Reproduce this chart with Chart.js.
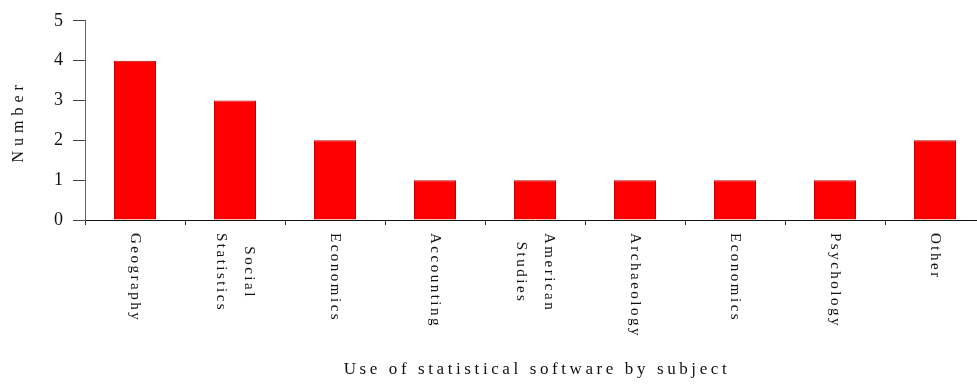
<!DOCTYPE html>
<html>
<head>
<meta charset="utf-8">
<title>Use of statistical software by subject</title>
<script src="https://cdn.jsdelivr.net/npm/chart.js@4/dist/chart.umd.min.js"></script>
<style>
  html, body { margin: 0; padding: 0; background: #ffffff; overflow: hidden; }
  #wrap { width: 990px; height: 385px; }
</style>
</head>
<body>
<div id="wrap"><canvas id="chart" width="990" height="385"></canvas></div>
<script>
// Subjects (multi-line entries are stacked label lines)
const subjects = [
  ['Geography'],
  ['Social', 'Statistics'],
  ['Economics'],
  ['Accounting'],
  ['American', 'Studies'],
  ['Archaeology'],
  ['Economics'],
  ['Psychology'],
  ['Other']
];
// Number of users per subject
const counts = [4, 3, 2, 1, 1, 1, 1, 1, 2];
// Value axis ticks
const yTicks = [0, 1, 2, 3, 4, 5];
const xTitle = 'Use of statistical software by subject';
const yTitle = 'Number';

const textColor = '#111111';
const serif = '"Liberation Serif", "DejaVu Serif", serif';

// Draws the rotated category labels and the spaced axis titles
const labelPlugin = {
  id: 'rotatedLabels',
  afterDraw(chart) {
    const ctx = chart.ctx;
    const xs = chart.scales.x;
    const area = chart.chartArea;
    ctx.save();
    ctx.fillStyle = textColor;
    ctx.font = '15px ' + serif;
    ctx.letterSpacing = '2.5px';
    ctx.textAlign = 'left';
    ctx.textBaseline = 'middle';
    const top = xs.top + 13;
    const lineGap = 28;
    subjects.forEach((lines, i) => {
      const cx = xs.getPixelForValue(i);
      const widths = lines.map(l => ctx.measureText(l).width);
      const maxW = Math.max(...widths);
      lines.forEach((line, j) => {
        const px = cx + ((lines.length - 1) / 2 - j) * lineGap;
        ctx.save();
        ctx.translate(px, top + (maxW - widths[j]) / 2);
        ctx.rotate(Math.PI / 2);
        ctx.fillText(line, 0, 0);
        ctx.restore();
      });
    });

    // x axis title
    ctx.font = '17px ' + serif;
    ctx.letterSpacing = '3.6px';
    ctx.textAlign = 'center';
    ctx.fillText(xTitle, (area.left + area.right) / 2 + 2, 370);

    // y axis title, reading upwards
    ctx.font = '16px ' + serif;
    ctx.letterSpacing = '5px';
    ctx.save();
    ctx.translate(19, (area.top + area.bottom) / 2 + 1);
    ctx.rotate(-Math.PI / 2);
    ctx.fillText(yTitle, 0, 0);
    ctx.restore();
    ctx.restore();
  }
};

new Chart(document.getElementById('chart'), {
  type: 'bar',
  data: {
    labels: subjects,
    datasets: [{
      data: counts,
      backgroundColor: '#ff0000',
      borderColor: '#c40000',
      borderWidth: 1,
      barPercentage: 0.42,
      categoryPercentage: 1
    }]
  },
  options: {
    responsive: false,
    animation: false,
    devicePixelRatio: 1,
    layout: { padding: { top: 18, right: 5, bottom: 0, left: 0 } },
    plugins: { legend: { display: false }, tooltip: { enabled: false } },
    scales: {
      x: {
        offset: true,
        grid: {
          offset: true,
          drawOnChartArea: false,
          drawTicks: true,
          tickLength: 5,
          color: '#333333',
          lineWidth: 1
        },
        border: { display: true, color: '#111111', width: 1 },
        ticks: { display: false },
        afterFit(scale) { scale.height = 165; }
      },
      y: {
        min: 0,
        max: 5,
        afterBuildTicks(scale) { scale.ticks = yTicks.map(v => ({ value: v })); },
        grid: {
          drawOnChartArea: false,
          drawTicks: true,
          tickLength: 12,
          color: '#444444',
          lineWidth: 1
        },
        border: { display: true, color: '#666666', width: 1 },
        ticks: {
          padding: 10,
          color: textColor,
          font: { family: serif, size: 18 }
        },
        afterFit(scale) { scale.width = 85; }
      }
    }
  },
  plugins: [labelPlugin]
});
</script>
</body>
</html>
